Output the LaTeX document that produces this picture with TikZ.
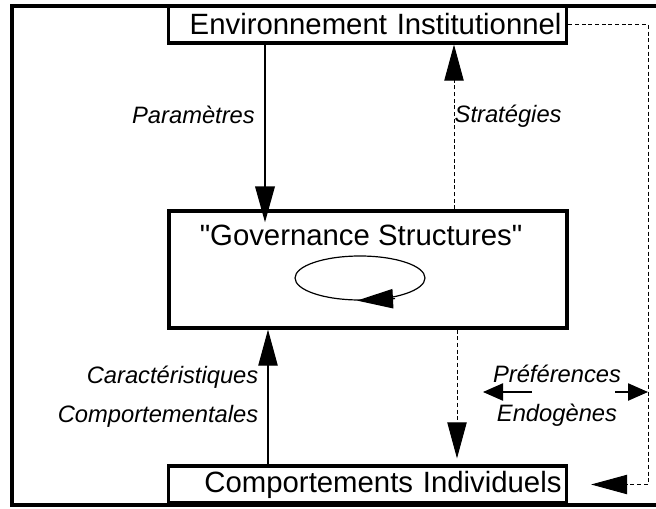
\documentclass[tikz,border=0pt]{standalone}
\usepackage{fontspec}
\setmainfont{Liberation Sans}
\usetikzlibrary{positioning, shapes.geometric, arrows.meta, calc}

\begin{document}
\begin{tikzpicture}[
  x=0.75pt, y=0.75pt,
  box/.style={
    draw, line width=2.4pt, fill=white, minimum height=27.75pt,
    inner xsep=4pt, text width=291pt, align=right,
    font=\fontsize{22}{26}\selectfont
  },
  lbl/.style={font=\fontsize{17.8}{29}\selectfont\itshape},
  flux/.style={line width=0.9pt},
  fb/.style={line width=0.75pt, dash pattern=on 3pt off 2pt},
  petite/.style={-{Triangle[length=15pt, width=13pt]}},
  >={Triangle[length=27pt, width=14.5pt]}
]
\useasboundingbox (0,0) rectangle (656,508);
% cadre ouvert a droite
\draw[line width=2.6pt] (657,502) -- (12,502) -- (12,3) -- (657,3);

\node[box] (env) at (367.5,483.5) {Environnement Institutionnel};
\node[box] (indiv) at (367.5,23.5) {Comportements Individuels};
\node[draw, line width=2.4pt, minimum width=298.5pt, minimum height=87.75pt, inner sep=0pt] (gov) at (368,238.5) {};
\node[font=\fontsize{22}{26}\selectfont, below=8pt of gov.north, xshift=-5.25pt] (govtitle) {\textquotedbl Governance Structures\textquotedbl};
\node[draw, ellipse, flux, minimum width=97.5pt, minimum height=33pt, inner sep=0pt] (boucle) at (360,230) {};
\draw[flux, ->] ($(boucle.south)+(35,2)$) -- ($(boucle.south)+(-3,0)$);

\coordinate (pA) at (265,0);
\coordinate (sA) at (454,0);
\coordinate (cA) at (268,0);
\coordinate (dA) at (457,0);
\coordinate (retour) at (648,0);

% liens principaux
\draw[->, line width=1.9pt, shorten >=-9.75pt] (env.south -| pA) -- (gov.north -| pA);
\draw[fb, ->] (gov.north -| sA) -- (env.south -| sA);
\draw[flux, ->] (indiv.north -| cA) -- (gov.south -| cA);
\draw[fb, ->, shorten >=4.5pt] (gov.south -| dA) -- (indiv.north -| dA);
\draw[fb, ->, shorten >=17pt] (env.east) -- (env.east -| retour) -- (indiv.east -| retour) -- (indiv.east);

\node[lbl, anchor=east] (param) at (259.5,393) {Paramètres};
\node[lbl, anchor=west] (strat) at (450,392) {Stratégies};
\node[lbl, align=right, anchor=east] (carac) at (263,111) {Caractéristiques\\Comportementales};
\node[lbl, align=center] (pref) at (557,112) {Préférences\\Endogènes};

\coordinate (prefL) at (532,116);
\coordinate (prefR) at (615,116);
\draw[flux, petite] (prefL) -- ++(-49,0);
\draw[flux, petite] (prefR) -- (prefR -| retour);
\end{tikzpicture}
\end{document}
